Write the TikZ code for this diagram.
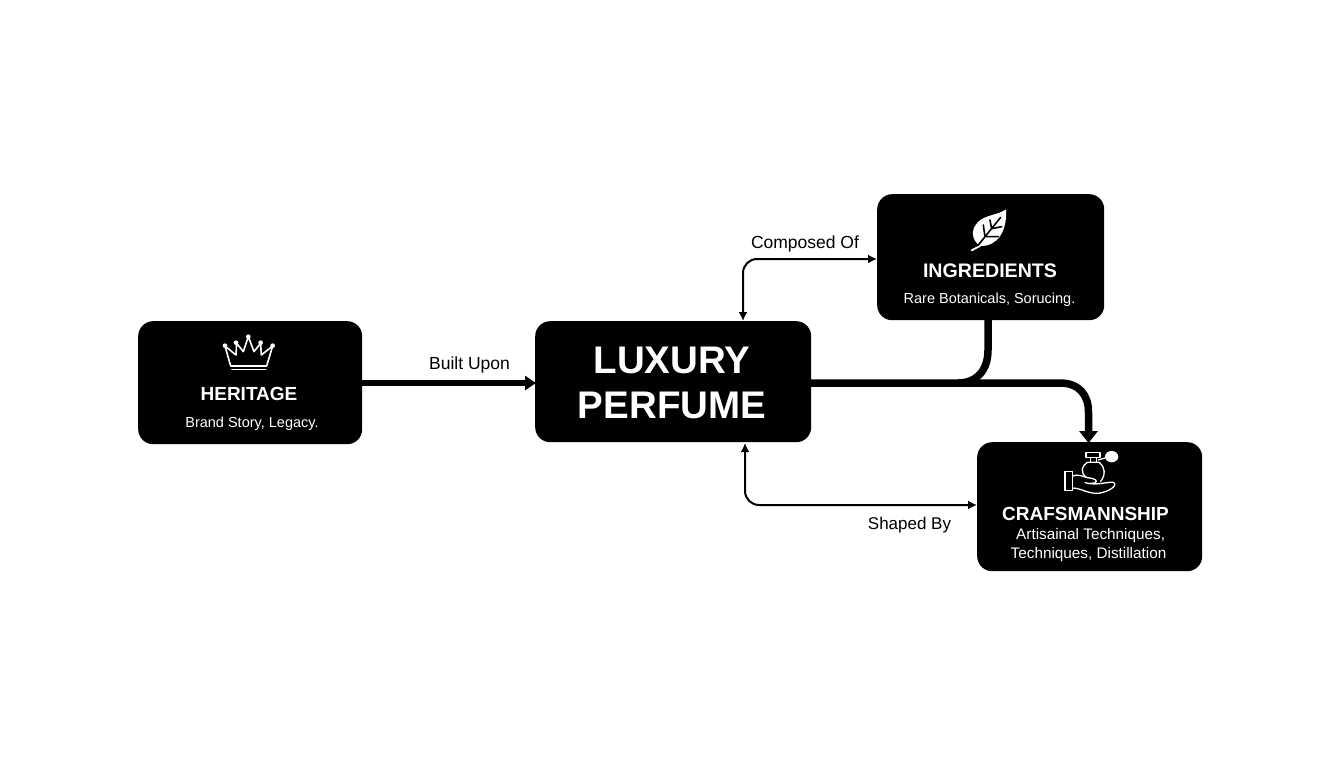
\documentclass[tikz,border=0pt]{standalone}
\usepackage{fontspec}
\setmainfont{Liberation Sans}
\usetikzlibrary{arrows.meta}
\tikzset{
  card/.style={fill=black,rounded corners=15pt,inner sep=0pt,anchor=north west},
  ttl/.style={text=white,font=\bfseries\fontsize{19}{22}\selectfont,inner sep=0pt},
  sub/.style={text=white,font=\fontsize{14.5}{19}\selectfont,inner sep=0pt,align=center},
  lab/.style={text=black,font=\fontsize{17.5}{20}\selectfont,inner sep=0pt},
  thin link/.style={draw=black,line width=2pt,rounded corners=14pt,{Latex[length=9pt,width=9pt]}-{Latex[length=9pt,width=9pt]}},
  thick link/.style={draw=black,line width=7.5pt},
  thick arrow/.style={-{Triangle[length=12pt,width=18pt]}},
  icon/.style={draw=white,line width=1.6pt,line join=round,line cap=round}
}
\begin{document}
\begin{tikzpicture}[x=1pt,y=-1pt]
\useasboundingbox[fill=white] (0,0) rectangle (1344,768);
\node[card,minimum width=224pt,minimum height=123pt] (her) at (138,321) {};
\node[card,minimum width=276pt,minimum height=121pt] (lux) at (535,321) {};
\node[card,minimum width=227pt,minimum height=126pt] (ing) at (877,194) {};
\node[card,minimum width=225pt,minimum height=129pt] (cra) at (977,442) {};
% titles and captions
\node[text=white,font=\bfseries\fontsize{38.5}{45.5}\selectfont,align=center,inner sep=0pt] (luxt) at (672,383) {LUXURY\\PERFUME};
\node[ttl] (hert) at (249,394) {HERITAGE};
\node[sub] (hers) at (252,423.5) {Brand Story, Legacy.};
\node[ttl,font=\bfseries\fontsize{19.6}{22}\selectfont] (ingt) at (990,271) {INGREDIENTS};
\node[sub] (ings) at (989.5,300) {Rare Botanicals, Sorucing.};
\node[ttl] (crat) at (1085.5,513.5) {CRAFSMANNSHIP};
\node[sub,font=\fontsize{15.3}{19}\selectfont] (cras) at (1088.5,545) {\ Artisainal Techniques,\\Techniques, Distillation};
% labels
\node[lab] (l1) at (469.5,365) {Built Upon};
\node[lab] (l2) at (805,244) {Composed Of};
\node[lab,font=\fontsize{17}{20}\selectfont] (l3) at (909.5,525) {Shaped By};
% connectors
\coordinate (a1) at (362,383);
\coordinate (a2) at (536,383);
\coordinate (b1) at (743,321);
\coordinate (b2) at (743,259);
\coordinate (b3) at (877,259);
\coordinate (c1) at (745,443);
\coordinate (c2) at (745,505);
\coordinate (c3) at (977,505);
\coordinate (d1) at (810,383);
\coordinate (d2) at (1060,383);
\coordinate (d3) at (1088.5,412);
\coordinate (d4) at (1088.5,443);
\coordinate (e1) at (988,320);
\coordinate (e2) at (988,350);
\coordinate (e3) at (958,383);
\draw[thick link,line width=6pt,-{Triangle[length=11pt,width=14pt]}] (a1) -- (a2);
\draw[thin link] (b1) -- (b2) -- (b3);
\draw[thin link] (c1) -- (c2) -- (c3);
\draw[thick link,thick arrow] (d1) -- (d2) .. controls (1079,383) and (1088.5,395) .. (d3) -- (d4);
\draw[thick link] (e1) -- (e2) .. controls (988,370) and (977,383) .. (e3);
% crown
\begin{scope}[shift={(130,310)},x=0.3333pt,y=-0.3333pt]
\draw[icon] (302,168) -- (285,108) -- (318,135) -- (320,100) -- (340,125) -- (355,80) -- (372,125) -- (392,100) -- (394,135) -- (428,108) -- (410,168) -- cycle;
\draw[icon] (306,179) -- (407,179);
\fill[white] (285,107) circle (7) (318,98) circle (7) (355,80) circle (7) (392,98) circle (7) (428,107) circle (7);
\end{scope}
% leaf
\begin{scope}[shift={(870,190)},x=0.3333pt,y=-0.3333pt]
\fill[white] (408,58) .. controls (412,120) and (385,170) .. (330,168) .. controls (305,150) and (300,120) .. (325,95) .. controls (345,75) and (385,75) .. cycle;
\draw[white,line width=1.8pt,line cap=round] (330,168) -- (305,181);
\draw[black,line width=1.6pt,line cap=round] (325,165) -- (392,82) (345,140) -- (340,105) (345,140) -- (385,140) (365,116) -- (360,90) (365,116) -- (395,110);
\end{scope}
% perfume and hand
\begin{scope}[shift={(970,400)},x=0.3333pt,y=-0.3333pt]
\draw[icon,line width=1.3pt] (348,158) rectangle (390,172) (362,172) rectangle (380,187);
\draw[icon,line width=1.3pt] (352,187) -- (388,187) .. controls (405,200) and (408,225) .. (392,244) (348,232) .. controls (330,215) and (335,198) .. (352,187);
\draw[icon,line width=1.3pt] (385,180) -- (408,173);
\fill[white] (425,170) ellipse (20 and 17);
\draw[icon,line width=1.3pt] (285,215) rectangle (308,272);
\draw[icon,line width=1.3pt] (308,228) .. controls (325,220) and (340,232) .. (365,235) .. controls (385,240) and (385,250) .. (360,250) (345,248) .. controls (380,258) and (410,245) .. (430,247) .. controls (445,255) and (420,275) .. (385,280) .. controls (355,282) and (335,265) .. (308,264);
\end{scope}
\end{tikzpicture}
\end{document}
